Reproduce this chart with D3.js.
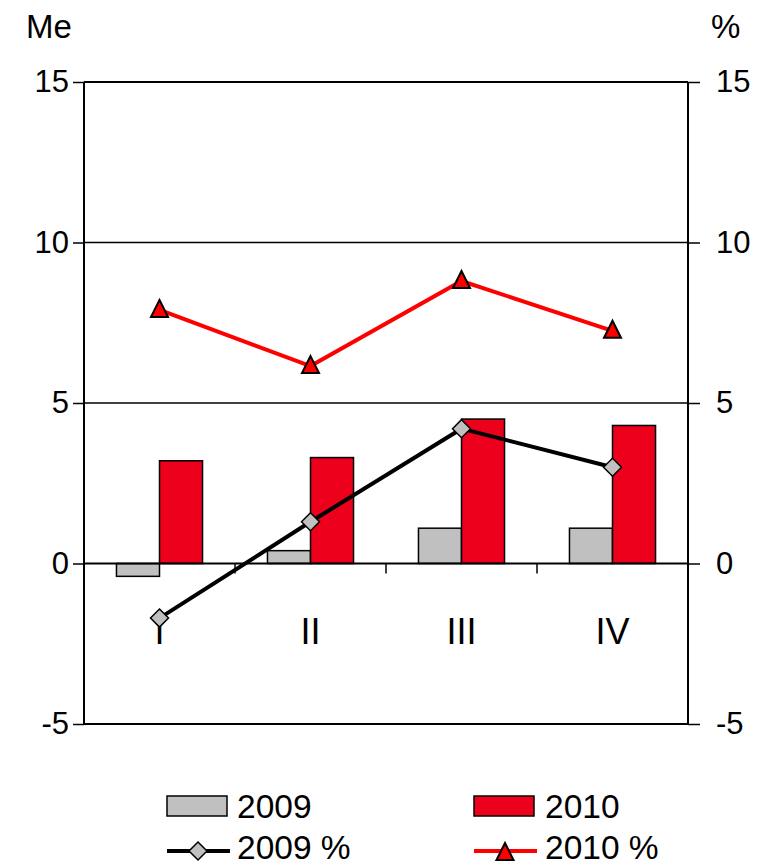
<!DOCTYPE html>
<html>
<head>
<meta charset="utf-8">
<script src="https://cdn.jsdelivr.net/npm/d3@7"></script>
<style>
  html, body { margin: 0; padding: 0; background: #fff; }
  svg { display: block; font-family: "Liberation Sans", Arial, sans-serif; }
</style>
</head>
<body>
<svg id="chart" width="771" height="866"></svg>
<script>
const categories = ["I", "II", "III", "IV"];
const bars2009 = [-0.4, 0.4, 1.1, 1.1];
const bars2010 = [3.2, 3.3, 4.5, 4.3];
const pct2009 = [-1.7, 1.3, 4.2, 3.0];
const pct2010 = [7.9, 6.15, 8.8, 7.25];
const yTicks = [-5, 0, 5, 10, 15];
const seriesNames = ["2009", "2010"];

(function () {
const svg = d3.select("#chart");
const pL = 84, pR = 688, pT = 82, pB = 724;

const x0 = d3.scaleBand().domain(categories).range([pL, pR])
  .paddingInner(0.43).paddingOuter(0.215);
const x1 = d3.scaleBand().domain(seriesNames).range([0, x0.bandwidth()]);
const y = d3.scaleLinear().domain([-5, 15]).range([pB, pT]);
const yR = d3.scaleLinear().domain([-5, 15]).range([pB, pT]);
const cx = c => x0(c) + x0.bandwidth() / 2;

const grey = "#c0c0c0", red = "#ec001c", lineRed = "#ff0000";

// gridlines
svg.append("g").selectAll("line").data([5, 10]).join("line")
  .attr("x1", pL).attr("x2", pR)
  .attr("y1", d => y(d)).attr("y2", d => y(d))
  .attr("stroke", "#000").attr("stroke-width", 1.5);

// bars
const barData = [];
categories.forEach((c, i) => {
  barData.push({ c, s: "2009", v: bars2009[i], fill: grey });
  barData.push({ c, s: "2010", v: bars2010[i], fill: red });
});
svg.append("g").selectAll("rect").data(barData).join("rect")
  .attr("x", d => x0(d.c) + x1(d.s))
  .attr("width", x1.bandwidth())
  .attr("y", d => y(Math.max(0, d.v)))
  .attr("height", d => Math.abs(y(d.v) - y(0)))
  .attr("fill", d => d.fill)
  .attr("stroke", "#000").attr("stroke-width", 1.5);

// zero line
svg.append("line").attr("x1", pL).attr("x2", pR)
  .attr("y1", y(0)).attr("y2", y(0)).attr("stroke", "#000").attr("stroke-width", 2);

// category ticks between bands
const boundaries = categories.slice(1).map(c => x0(c) - x0.step() * x0.paddingInner() / 2);
svg.append("g").selectAll("line").data(boundaries).join("line")
  .attr("x1", d => d).attr("x2", d => d)
  .attr("y1", y(0)).attr("y2", y(0) + 10)
  .attr("stroke", "#000").attr("stroke-width", 1.5);

// category labels
svg.append("g").selectAll("text").data(categories).join("text")
  .attr("x", d => cx(d)).attr("y", y(0) + 80)
  .attr("text-anchor", "middle").attr("font-size", 36).text(d => d);

// frame: left/right axes + top/bottom lines
const fmt = d => String(d);
const leftAxis = d3.axisLeft(y).tickValues(yTicks).tickSize(11).tickPadding(4).tickFormat(fmt);
const rightAxis = d3.axisRight(yR).tickValues(yTicks).tickSize(12).tickPadding(16).tickFormat(fmt);
const gl = svg.append("g").attr("transform", `translate(${pL},0)`).call(leftAxis);
const gr = svg.append("g").attr("transform", `translate(${pR},0)`).call(rightAxis);
[gl, gr].forEach(g => {
  g.select(".domain").attr("stroke", "#000").attr("stroke-width", 2);
  g.selectAll(".tick line").attr("stroke", "#000").attr("stroke-width", 1.5);
  g.selectAll(".tick text").attr("font-size", 31).attr("fill", "#000")
    .attr("font-family", "'Liberation Sans', Arial, sans-serif");
});
gl.select(".domain").attr("d", `M0,${pT}V${pB}`);
gr.select(".domain").attr("d", `M0,${pT}V${pB}`);
svg.append("g").selectAll("line").data([15, -5]).join("line")
  .attr("x1", pL).attr("x2", pR)
  .attr("y1", d => y(d)).attr("y2", d => y(d))
  .attr("stroke", "#000").attr("stroke-width", 2);

// axis titles
svg.append("text").attr("x", 26).attr("y", 38).attr("font-size", 33).text("Me");
svg.append("text").attr("x", 711).attr("y", 38).attr("font-size", 33).text("%");

// lines
const line = d3.line().x(d => cx(d.c)).y(d => y(d.v));
const p09 = categories.map((c, i) => ({ c, v: pct2009[i] }));
const p10 = categories.map((c, i) => ({ c, v: pct2010[i] }));
svg.append("path").datum(p10).attr("d", line).attr("fill", "none")
  .attr("stroke", lineRed).attr("stroke-width", 4);
svg.append("path").datum(p09).attr("d", line).attr("fill", "none")
  .attr("stroke", "#000").attr("stroke-width", 4);

const diamond = (gx, gy) => `M${gx},${gy - 9}L${gx + 9},${gy}L${gx},${gy + 9}L${gx - 9},${gy}Z`;
const tri = (gx, gy) => `M${gx},${gy - 10}L${gx + 8.5},${gy + 7}L${gx - 8.5},${gy + 7}Z`;

svg.append("g").selectAll("path").data(p10).join("path")
  .attr("d", d => tri(cx(d.c), y(d.v)))
  .attr("fill", lineRed).attr("stroke", "#000").attr("stroke-width", 2);
svg.append("g").selectAll("path").data(p09).join("path")
  .attr("d", d => diamond(cx(d.c), y(d.v)))
  .attr("fill", grey).attr("stroke", "#000").attr("stroke-width", 1.5);

// legend
const lg = svg.append("g");
lg.append("rect").attr("x", 167).attr("y", 796).attr("width", 60).attr("height", 20)
  .attr("fill", grey).attr("stroke", "#000").attr("stroke-width", 1.5);
lg.append("text").attr("x", 237).attr("y", 818).attr("font-size", 33.5).text("2009");
lg.append("rect").attr("x", 474).attr("y", 796).attr("width", 60).attr("height", 20)
  .attr("fill", red).attr("stroke", "#000").attr("stroke-width", 1.5);
lg.append("text").attr("x", 545).attr("y", 818).attr("font-size", 33.5).text("2010");

lg.append("line").attr("x1", 167).attr("x2", 230).attr("y1", 851).attr("y2", 851)
  .attr("stroke", "#000").attr("stroke-width", 4);
lg.append("path").attr("d", diamond(198, 851)).attr("fill", grey).attr("stroke", "#000").attr("stroke-width", 1.5);
lg.append("text").attr("x", 237).attr("y", 859).attr("font-size", 33.5).text("2009 %");
lg.append("line").attr("x1", 474).attr("x2", 537).attr("y1", 851).attr("y2", 851)
  .attr("stroke", lineRed).attr("stroke-width", 4);
lg.append("path").attr("d", tri(505, 853)).attr("fill", lineRed).attr("stroke", "#000").attr("stroke-width", 2);
lg.append("text").attr("x", 545).attr("y", 859).attr("font-size", 33.5).text("2010 %");
})();
</script>
</body>
</html>
